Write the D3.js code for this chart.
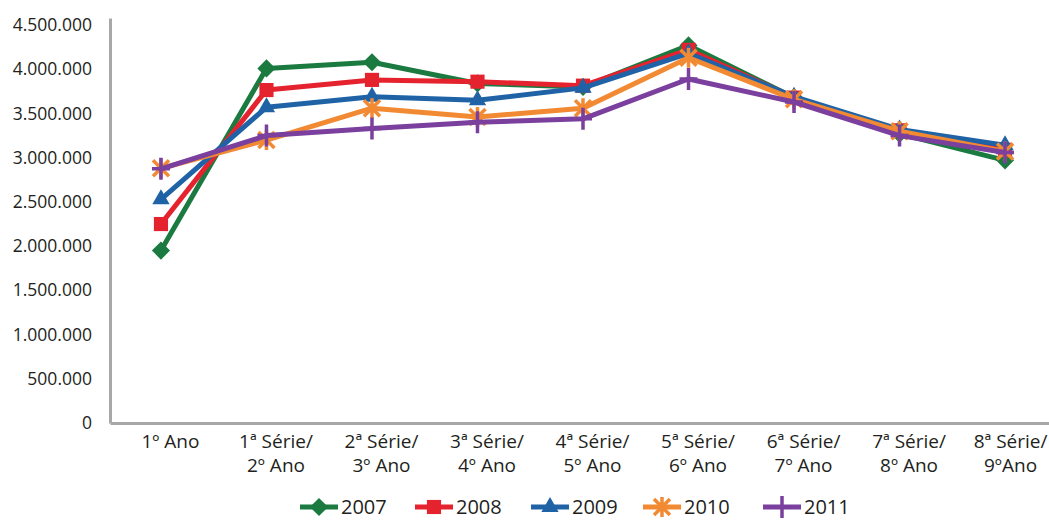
<!DOCTYPE html>
<html>
<head>
<meta charset="utf-8">
<script src="https://cdn.jsdelivr.net/npm/d3@7"></script>
<style>
  body { margin: 0; background: #fff; }
  svg { display: block; font-family: "Open Sans", sans-serif; }
</style>
</head>
<body>
<svg id="chart" width="1049" height="523"></svg>
<script>
// Grade levels (two-line labels split on "\n")
const categories = [
  "1º Ano",
  "1ª Série/\n2º Ano",
  "2ª Série/\n3º Ano",
  "3ª Série/\n4º Ano",
  "4ª Série/\n5º Ano",
  "5ª Série/\n6º Ano",
  "6ª Série/\n7º Ano",
  "7ª Série/\n8º Ano",
  "8ª Série/\n9ºAno"
];

// Enrolment per grade, one array per year
const values2007 = [1950000, 4010000, 4080000, 3840000, 3800000, 4270000, 3680000, 3270000, 2970000];
const values2008 = [2250000, 3765000, 3880000, 3860000, 3815000, 4220000, 3680000, 3310000, 3090000];
const values2009 = [2530000, 3570000, 3690000, 3650000, 3790000, 4180000, 3690000, 3320000, 3140000];
const values2010 = [2880000, 3200000, 3560000, 3460000, 3560000, 4130000, 3660000, 3300000, 3070000];
const values2011 = [2875000, 3250000, 3330000, 3400000, 3440000, 3890000, 3630000, 3250000, 3060000];

const years = ["2007", "2008", "2009", "2010", "2011"];
const yTicks = [0, 500000, 1000000, 1500000, 2000000, 2500000, 3000000, 3500000, 4000000, 4500000];

const series = [
  { name: years[0], values: values2007, color: "#1b7a40", marker: "diamond" },
  { name: years[1], values: values2008, color: "#e5232e", marker: "square" },
  { name: years[2], values: values2009, color: "#1f63a6", marker: "triangle" },
  { name: years[3], values: values2010, color: "#f28a33", marker: "star" },
  { name: years[4], values: values2011, color: "#7b3f9e", marker: "plus" }
];

const svg = d3.select("#chart");
const axisColor = "#a8a8a8";
const textColor = "#231f20";

// pt-BR style thousands separator
const locale = d3.formatLocale({ decimal: ",", thousands: ".", grouping: [3], currency: ["R$", ""] });
const fmt = locale.format(",d");

const x = d3.scalePoint().domain(categories).range([110, 1056]).padding(0.483);
const y = d3.scaleLinear().domain([0, 4580000]).range([423, 18]);

// Y axis
const yAxis = svg.append("g")
  .attr("transform", "translate(110,0)")
  .call(d3.axisLeft(y).tickValues(yTicks).tickSize(0).tickPadding(18).tickFormat(fmt));
yAxis.select(".domain").attr("stroke", axisColor).attr("stroke-width", 3);
yAxis.selectAll("text")
  .attr("fill", textColor)
  .style("font-size", "17.5px")
  .style("font-family", "'Open Sans', sans-serif");

// X axis
const xAxis = svg.append("g")
  .attr("transform", "translate(0,423)")
  .call(d3.axisBottom(x).tickSize(0).tickPadding(10));
xAxis.select(".domain").attr("stroke", axisColor).attr("stroke-width", 3);
xAxis.selectAll(".tick text")
  .attr("fill", textColor)
  .style("font-size", "19px")
  .style("font-family", "'Open Sans', sans-serif")
  .each(function (d, idx) {
    const t = d3.select(this);
    const lines = d.split("\n");
    const shift = idx === categories.length - 1 ? 5 : 9;
    t.text(null).attr("y", 0).attr("dy", null);
    lines.forEach((ln, i) => {
      t.append("tspan").attr("x", shift).attr("y", 25 + i * 24).text(ln);
    });
  });

// Marker shapes
const diamondPath = d3.symbol(d3.symbolSquare, 165)();
const squarePath = d3.symbol(d3.symbolSquare, 200)();
const trianglePath = d3.symbol(d3.symbolTriangle, 130)();
const starPath = "M-8,-8L8,8M-8,8L8,-8M0,-10V10";
const plusPath = "M0,-11V11M-9,0H9";

function drawMarker(g, kind, color) {
  if (kind === "diamond") {
    g.append("path").attr("d", diamondPath).attr("transform", "rotate(45)").attr("fill", color);
  } else if (kind === "square") {
    g.append("path").attr("d", squarePath).attr("fill", color);
  } else if (kind === "triangle") {
    g.append("path").attr("d", trianglePath).attr("fill", color);
  } else if (kind === "star") {
    g.append("path").attr("d", starPath).attr("fill", "none").attr("stroke", color).attr("stroke-width", 3.5);
  } else if (kind === "plus") {
    g.append("path").attr("d", plusPath).attr("fill", "none").attr("stroke", color).attr("stroke-width", 3.5);
  }
}

const line = d3.line()
  .x((d, i) => x(categories[i]))
  .y(d => y(d));

const plot = svg.append("g");
series.forEach(s => {
  plot.append("path")
    .attr("d", line(s.values))
    .attr("fill", "none")
    .attr("stroke", s.color)
    .attr("stroke-width", 5)
    .attr("stroke-linejoin", "round");
  s.values.forEach((v, i) => {
    const g = plot.append("g").attr("transform", `translate(${x(categories[i])},${y(v)})`);
    drawMarker(g, s.marker, s.color);
  });
});

// Legend
const legendX = [300, 415, 531, 643, 763];
const legend = svg.append("g").attr("transform", "translate(0,507)");
series.forEach((s, i) => {
  const g = legend.append("g").attr("transform", `translate(${legendX[i]},0)`);
  g.append("line").attr("x1", 0).attr("x2", 38).attr("y1", 0).attr("y2", 0)
    .attr("stroke", s.color).attr("stroke-width", 5);
  drawMarker(g.append("g").attr("transform", "translate(19,0)"), s.marker, s.color);
  g.append("text")
    .attr("x", 41).attr("y", 7)
    .attr("fill", textColor)
    .style("font-size", "20px")
    .text(s.name);
});
</script>
</body>
</html>
